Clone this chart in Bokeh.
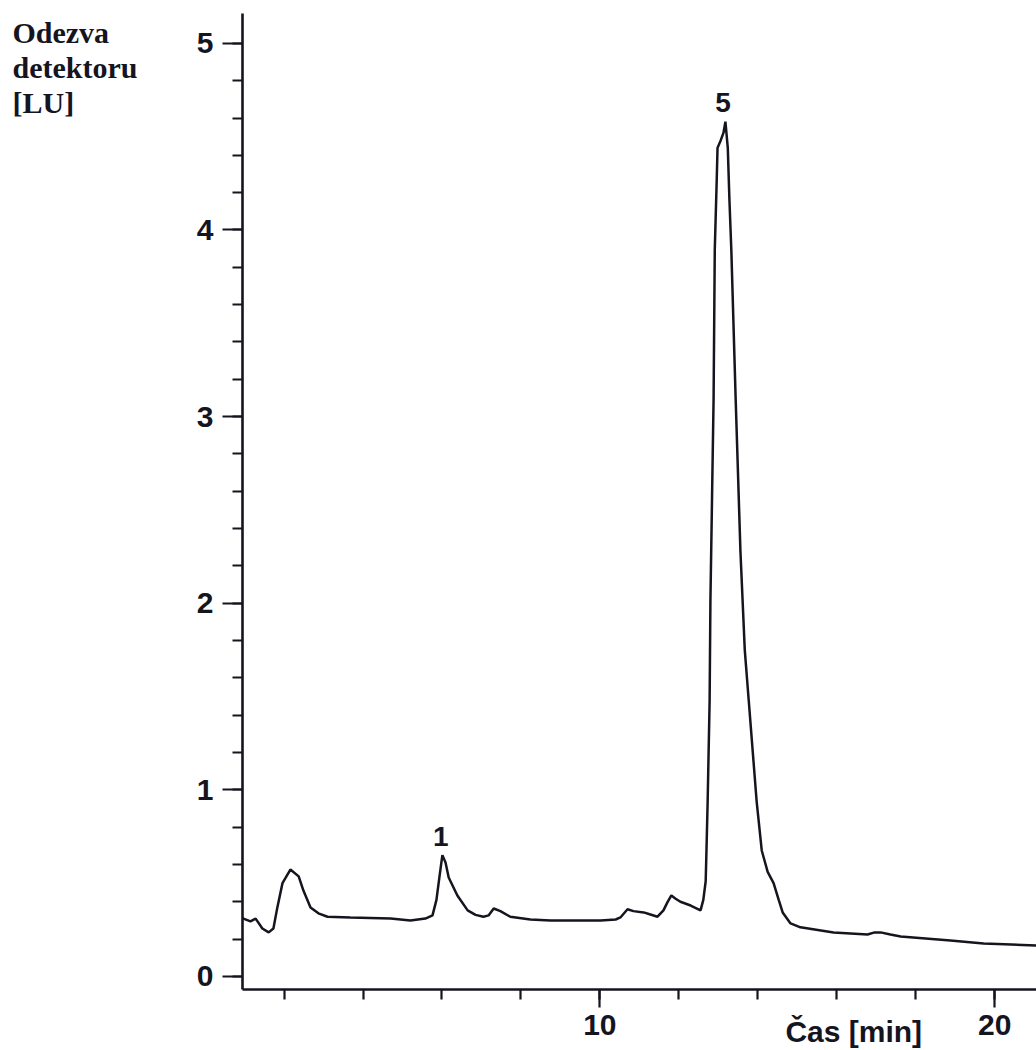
from bokeh.plotting import figure
from bokeh.models import Range1d, SingleIntervalTicker, ColumnDataSource
from bokeh.embed import file_html
from bokeh.resources import INLINE
from bokeh.core.properties import value

# Chromatogram trace: time [min], detector response [LU]
time_min = [0.95, 0.97, 1.15, 1.28, 1.45, 1.61, 1.73, 1.83, 1.96, 2.03, 2.16, 2.37,
            2.49, 2.67, 2.87, 3.10, 3.68, 4.70, 5.20, 5.58, 5.76, 5.86, 5.94, 6.01,
            6.09, 6.17, 6.39, 6.65, 6.85, 7.05, 7.18, 7.31, 7.48, 7.73, 8.24, 8.75,
            9.51, 10.02, 10.40, 10.52, 10.70, 10.85, 11.11, 11.28, 11.46, 11.61, 11.71,
            11.81, 11.91, 12.04, 12.30, 12.55, 12.62, 12.68, 12.70, 12.73, 12.78, 12.80,
            12.84, 12.88, 12.91, 12.96, 12.98, 13.06, 13.13, 13.18, 13.24, 13.28, 13.33,
            13.44, 13.56, 13.67, 13.77, 13.97, 14.10, 14.25, 14.40, 14.53, 14.63, 14.83,
            15.08, 15.92, 16.78, 16.96, 17.11, 17.36, 17.62, 18.88, 19.72, 21.06]
response_lu = [0.31, 0.31, 0.295, 0.31, 0.257, 0.236, 0.257, 0.37, 0.50, 0.525, 0.573, 0.536,
               0.46, 0.37, 0.338, 0.32, 0.316, 0.31, 0.30, 0.31, 0.327, 0.41, 0.54, 0.65,
               0.61, 0.53, 0.434, 0.354, 0.33, 0.32, 0.327, 0.364, 0.35, 0.32, 0.305, 0.30,
               0.30, 0.30, 0.305, 0.316, 0.36, 0.35, 0.343, 0.332, 0.32, 0.354, 0.397,
               0.434, 0.418, 0.40, 0.38, 0.354, 0.41, 0.51, 0.675, 0.94, 1.48, 2.015,
               2.55, 3.09, 3.89, 4.27, 4.44, 4.48, 4.52, 4.58, 4.44, 4.17, 3.89,
               3.09, 2.28, 1.75, 1.48, 0.94, 0.675, 0.56, 0.50, 0.41, 0.343, 0.284,
               0.263, 0.236, 0.225, 0.236, 0.236, 0.225, 0.214, 0.193, 0.177, 0.166]

# Numbered peaks
peak_names = ["1", "5"]
peak_time = [5.97, 13.12]
peak_resp = [0.65, 4.58]

# Axis texts
y_label_lines = ["Odezva", "detektoru", "[LU]"]
x_label = "Čas [min]"

INK = "#15151f"
PX_PER_UNIT = 186.6            # vertical pixels per LU
LABEL_GAP = 9 / PX_PER_UNIT    # gap between a peak apex and its number
SHIFT = 10 / PX_PER_UNIT       # compensates the renderer's baseline placement

p = figure(width=1036, height=1050, output_backend="svg", toolbar_location=None,
           x_range=Range1d(0.947, 21.06), y_range=Range1d(-0.07, 5.16),
           min_border_left=242, min_border_right=0, min_border_top=13, min_border_bottom=61)
p.outline_line_color = None
p.background_fill_color = "white"
p.border_fill_color = "white"
p.xgrid.visible = False
p.ygrid.visible = False

p.line(time_min, response_lu, line_color=INK, line_width=2.5)

src = ColumnDataSource(dict(x=peak_time, y=[v + LABEL_GAP + SHIFT for v in peak_resp], t=peak_names))
p.text(x="x", y="y", text="t", source=src, text_align="center", text_baseline="alphabetic",
       text_font=value("Liberation Sans"), text_font_style="bold",
       text_font_size="28px", text_color=INK)

# axes
for ax in (p.xaxis[0], p.yaxis[0]):
    ax.axis_line_color = INK
    ax.axis_line_width = 2.6
    ax.major_tick_line_color = INK
    ax.major_tick_line_width = 2.2
    ax.minor_tick_line_color = INK
    ax.minor_tick_line_width = 2.2
    ax.major_tick_in = 0
    ax.minor_tick_in = 0
    ax.major_label_text_font = "Liberation Sans"
    ax.major_label_text_font_style = "bold"
    ax.major_label_text_font_size = "30px"
    ax.major_label_text_color = INK

p.xaxis.ticker = SingleIntervalTicker(interval=10, num_minor_ticks=5)
p.xaxis.major_tick_out = 18
p.xaxis.minor_tick_out = 10
p.xaxis.major_label_standoff = 7

p.yaxis.ticker = SingleIntervalTicker(interval=1, num_minor_ticks=5)
p.yaxis.major_tick_out = 20
p.yaxis.minor_tick_out = 10
p.yaxis.major_label_standoff = 9

# x-axis title beside the tick labels (overlay level so it is not clipped to the frame)
xl = ColumnDataSource(dict(x=[14.70], y=[-0.348 + SHIFT], t=[x_label]))
p.text(x="x", y="y", text="t", source=xl, text_align="left", text_baseline="alphabetic",
       text_font=value("Liberation Sans"), text_font_style="bold", text_font_size="30px",
       text_color=INK, level="overlay")

# y-axis title, three lines at the top left
yl = ColumnDataSource(dict(x=[-4.88] * 3, y=[v + SHIFT for v in (5.005, 4.818, 4.628)], t=y_label_lines))
p.text(x="x", y="y", text="t", source=yl, text_align="left", text_baseline="alphabetic",
       text_font=value("Liberation Serif"), text_font_style="bold", text_font_size="30px",
       text_color=INK, level="overlay")

open("out.html", "w").write(file_html(p, INLINE))
